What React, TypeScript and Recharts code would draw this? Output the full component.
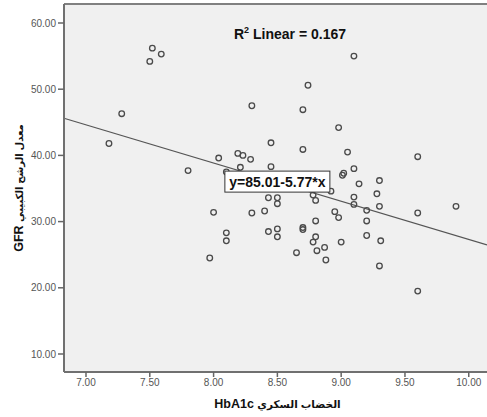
import React from 'react';
import { ScatterChart, Scatter, XAxis, YAxis, CartesianGrid, ReferenceLine } from 'recharts';

// HbA1c values (x)
const hba1c = [
  7.52, 7.59, 7.5, 9.1, 8.74, 7.28, 8.3, 8.7, 8.98, 7.18,
  8.45, 8.04, 8.19, 8.23, 8.29, 8.7, 9.05, 9.6, 7.8, 8.1,
  8.21, 8.45, 9.01, 9.02, 9.1, 9.14, 9.3, 9.28, 8.92, 8.78,
  8.8, 8.43, 8.5, 8.5, 9.1, 9.1, 9.3, 9.2, 9.6, 9.9,
  8.0, 8.3, 8.4, 8.95, 8.98, 8.8, 9.2, 8.1, 8.1, 8.43,
  8.5, 8.5, 8.7, 8.7, 8.8, 8.78, 9.2, 9.31, 9.0, 8.87,
  8.81, 8.65, 7.97, 8.88, 9.3, 9.6,
];
// GFR values (y)
const gfr = [
  56.2, 55.3, 54.2, 55.0, 50.6, 46.3, 47.5, 46.9, 44.2, 41.8,
  41.9, 39.6, 40.3, 40.0, 39.4, 40.9, 40.5, 39.8, 37.7, 37.5,
  38.2, 38.3, 37.0, 37.3, 38.0, 35.7, 36.2, 34.2, 34.6, 34.0,
  33.2, 33.6, 33.6, 32.7, 33.7, 32.6, 32.3, 31.7, 31.3, 32.3,
  31.4, 31.3, 31.6, 31.5, 30.6, 30.1, 30.1, 28.3, 27.1, 28.5,
  28.9, 27.7, 29.1, 28.8, 27.7, 26.9, 27.9, 27.1, 26.9, 26.1,
  25.6, 25.3, 24.5, 24.2, 23.3, 19.5,
];

const xTicks = [7, 7.5, 8, 8.5, 9, 9.5, 10];
const yTicks = [10, 20, 30, 40, 50, 60];
const intercept = 85.01;
const slope = -5.77;
const rSquared = 0.167;
const xDomain: [number, number] = [6.8276, 10.143];
const yDomain: [number, number] = [7.28, 62.87];
const eqLabelX = 8.5;

const xTitleAr = 'الخضاب السكري';
const xTitleEn = 'HbA1c';
const yTitleAr = 'معدل الرشح الكبيبي';
const yTitleEn = 'GFR';

const W = 487;
const H = 417;
const Y_AXIS_W = 64;
const X_AXIS_H = 45;
const TOP = 4;
const plotLeft = Y_AXIS_W;
const plotTop = TOP;
const plotW = W - Y_AXIS_W;
const plotH = H - TOP - X_AXIS_H;

const points = hba1c.map((x, i) => ({ x, y: gfr[i] }));

const px = (x: number) => plotLeft + ((x - xDomain[0]) / (xDomain[1] - xDomain[0])) * plotW;
const py = (y: number) => plotTop + ((yDomain[1] - y) / (yDomain[1] - yDomain[0])) * plotH;

const FONT = '"Liberation Sans", Arial, "DejaVu Sans", sans-serif';

const Ring = (props: any) => {
  const { cx, cy } = props;
  if (cx == null || cy == null) return null;
  return <circle cx={cx} cy={cy} r={2.8} fill="none" stroke="#4a4a4a" strokeWidth={1.3} />;
};

export default function App() {
  const eqY = intercept + slope * eqLabelX;
  const bx = px(eqLabelX);
  const by = py(eqY);
  return (
    <div style={{ position: 'absolute', left: 0, top: 0, width: W, height: H, background: '#fff' }}>
      <ScatterChart width={W} height={H} margin={{ top: TOP, right: 0, bottom: 0, left: 0 }}>
        <CartesianGrid fill="#f0f0f0" horizontal={false} vertical={false} />
        <XAxis
          type="number"
          dataKey="x"
          domain={xDomain}
          ticks={xTicks}
          allowDataOverflow
          height={X_AXIS_H}
          tickFormatter={(v: number) => v.toFixed(2)}
          tick={{ fill: '#555', fontSize: 10, fontFamily: FONT }}
          tickSize={5}
          tickLine={{ stroke: '#666', strokeWidth: 1.5 }}
          axisLine={{ stroke: '#707070', strokeWidth: 2 }}
        />
        <YAxis
          type="number"
          dataKey="y"
          domain={yDomain}
          ticks={yTicks}
          allowDataOverflow
          width={Y_AXIS_W}
          tickFormatter={(v: number) => v.toFixed(2)}
          tick={{ fill: '#555', fontSize: 10, fontFamily: FONT }}
          tickSize={6}
          tickLine={{ stroke: '#666', strokeWidth: 1.5 }}
          axisLine={{ stroke: '#707070', strokeWidth: 2 }}
        />
        <ReferenceLine y={yDomain[1]} stroke="#808080" strokeWidth={2} />
        <ReferenceLine
          segment={[
            { x: xDomain[0], y: intercept + slope * xDomain[0] },
            { x: xDomain[1], y: intercept + slope * xDomain[1] },
          ]}
          stroke="#555"
          strokeWidth={1.2}
        />
        <Scatter data={points} shape={<Ring />} isAnimationActive={false} />
      </ScatterChart>
      <svg
        width={W}
        height={H}
        style={{ position: 'absolute', left: 0, top: 0, pointerEvents: 'none' }}
      >
        <text x={290} y={39} textAnchor="middle" fontFamily={FONT} fontWeight="bold" fontSize={14} fill="#111">
          R<tspan fontSize={9} dy={-6}>2</tspan>
          <tspan dy={6}> Linear = {rSquared.toFixed(3)}</tspan>
        </text>
        <rect x={bx - 52.5} y={by - 11} width={105} height={21} fill="#fff" stroke="#333" strokeWidth={1} />
        <text x={bx} y={by + 5} textAnchor="middle" fontFamily={FONT} fontWeight="bold" fontSize={14} fill="#111">
          {`y=${intercept.toFixed(2)}${slope.toFixed(2)}*x`}
        </text>
        <text
          x={plotLeft + plotW / 2 + 2}
          y={408}
          textAnchor="middle"
          direction="rtl"
          fontFamily={FONT}
          fontWeight="bold"
          fontSize={12.5}
          fill="#111"
        >
          <tspan fontSize={10.5}>{xTitleAr}</tspan>
          <tspan>{' ' + xTitleEn}</tspan>
        </text>
        <text
          x={0}
          y={0}
          transform={`translate(23, ${plotTop + plotH / 2}) rotate(-90)`}
          textAnchor="middle"
          direction="rtl"
          fontFamily={FONT}
          fontWeight="bold"
          fontSize={12.5}
          fill="#111"
        >
          <tspan fontSize={10}>{yTitleAr}</tspan>
          <tspan>{' ' + yTitleEn}</tspan>
        </text>
      </svg>
    </div>
  );
}
